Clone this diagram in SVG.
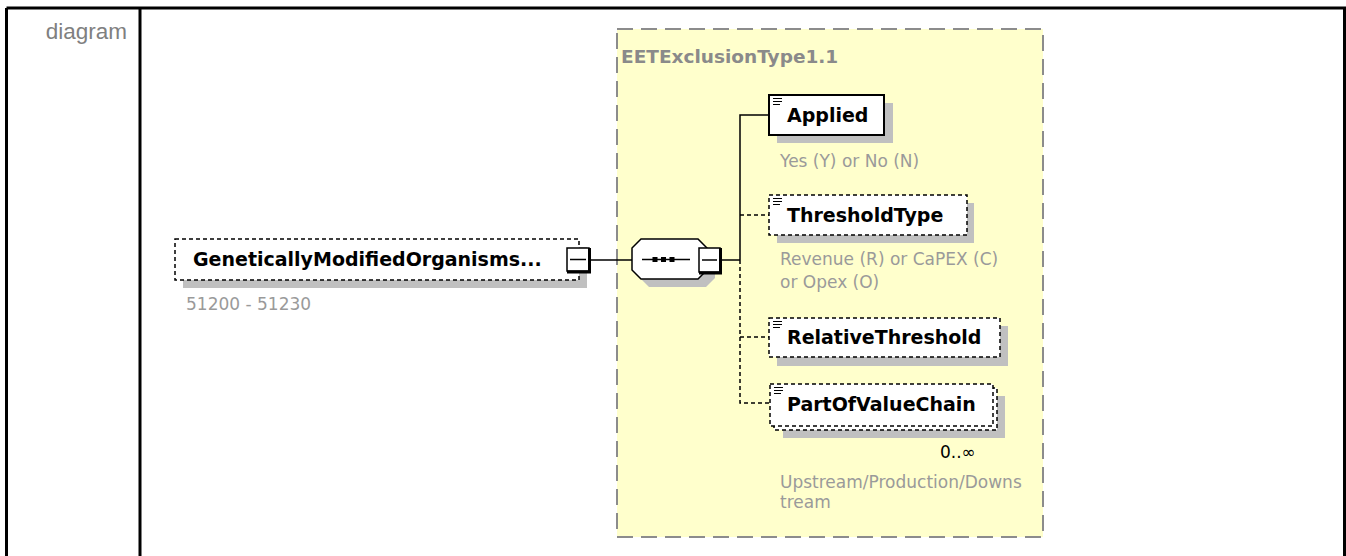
<svg xmlns="http://www.w3.org/2000/svg" width="1346" height="556" viewBox="0 0 1346 556">
<style>
.frame{fill:none;stroke:#000;stroke-width:3}
.name{font-family:"DejaVu Sans",sans-serif;font-weight:bold;font-size:19px;fill:#000}
.ann{font-family:"DejaVu Sans",sans-serif;font-size:17px;fill:#9a9a9a}
.shadow{fill:#c0c0c0}
.box{fill:#fff;stroke:#000;stroke-width:1.5;stroke-dasharray:4 3}
.solidbox{fill:#fff;stroke:#000;stroke-width:2}
.conn{fill:none;stroke:#000;stroke-width:1.5}
.dash{stroke-dasharray:4 3}
.icon{stroke:#000;stroke-width:1.2}
</style>
<rect width="1346" height="556" fill="#fff"/>
<g id="frame">
<path class="frame" d="M6.5,8 H1344.5 V556 M6.5,8 V556 M140,8 V556"/>
<text x="127" y="39" text-anchor="end" font-family="Liberation Sans, Arial, sans-serif" font-size="22.5" fill="#808080">diagram</text>
</g>
<g id="type-EETExclusionType1.1">
<rect x="617" y="29" width="426" height="508" fill="#ffffcc" stroke="#8c8c8c" stroke-width="2" stroke-dasharray="16 8"/>
<text x="621" y="63" font-family="DejaVu Sans, sans-serif" font-weight="bold" font-size="18.5" fill="#8a8a8a">EETExclusionType1.1</text>
</g>
<g id="connectors">
<path class="conn" d="M590,260 H632"/>
<path class="conn" d="M578,239 V248"/>
<path class="conn" d="M720,260 H740"/>
<path class="conn" d="M769,115 H740 V260"/>
<path class="conn dash" d="M740,260 V403 H770"/>
<path class="conn dash" d="M740,215 H769"/>
<path class="conn dash" d="M740,337 H769"/>
</g>
<g id="node-GMO">
<rect class="shadow" x="183" y="247" width="404" height="41"/>
<rect class="box" x="175" y="239" width="404" height="41"/>
<text class="name" x="193" y="266">GeneticallyModifiedOrganisms...</text>
<rect x="567" y="248" width="22" height="23" fill="#fff" stroke="#000" stroke-width="1.5"/>
<path d="M589.5,248 V272 H567" fill="none" stroke="#000" stroke-width="3"/>
<path d="M570,259.5 H586" stroke="#000" stroke-width="1.5"/>
<text class="ann" x="186" y="310" font-size="16">51200 - 51230</text>
</g>
<g id="node-sequence">
<polygon class="shadow" points="649,247 706,247 715,256 715,278 706,287 649,287 640,278 640,256"/>
<polygon points="641,239 698,239 707,248 707,270 698,279 641,279 632,270 632,248" fill="#fff" stroke="#000" stroke-width="1.5"/>
<path d="M642,259.5 H690" stroke="#000" stroke-width="1.5"/>
<rect x="652.5" y="257" width="5" height="5" fill="#000"/>
<rect x="661" y="257" width="5" height="5" fill="#000"/>
<rect x="669.5" y="257" width="5" height="5" fill="#000"/>
<rect x="699" y="248" width="21" height="24" fill="#fff" stroke="#000" stroke-width="1.5"/>
<path d="M720.5,248 V273 H699" fill="none" stroke="#000" stroke-width="3"/>
<path d="M702,260 H717" stroke="#000" stroke-width="1.5"/>
</g>
<g id="node-Applied">
<rect class="shadow" x="777" y="103" width="116" height="40"/>
<rect class="solidbox" x="769" y="95" width="115" height="40"/>
<path class="icon" d="M773,98.5 H782 M773,101.5 H782 M773,104.5 H780"/>
<text class="name" x="787" y="122">Applied</text>
<text class="ann" x="780" y="167">Yes (Y) or No (N)</text>
</g>
<g id="node-ThresholdType">
<rect class="shadow" x="777" y="203" width="197" height="40"/>
<rect class="box" x="769" y="195" width="198" height="40"/>
<path class="icon" d="M773,198.5 H782 M773,201.5 H782 M773,204.5 H780"/>
<text class="name" x="787" y="222">ThresholdType</text>
<text class="ann" x="780" y="265">Revenue (R) or CaPEX (C)</text>
<text class="ann" x="780" y="288">or Opex (O)</text>
</g>
<g id="node-RelativeThreshold">
<rect class="shadow" x="777" y="326" width="231" height="40"/>
<rect class="box" x="769" y="318" width="231" height="39"/>
<path class="icon" d="M773,321.5 H782 M773,324.5 H782 M773,327.5 H780"/>
<text class="name" x="787" y="344">RelativeThreshold</text>
</g>
<g id="node-PartOfValueChain">
<rect class="shadow" x="783" y="396" width="222" height="42"/>
<rect class="box" x="774" y="388" width="223" height="42"/>
<rect class="box" x="770" y="384" width="223" height="42"/>
<path class="icon" d="M774,387.5 H783 M774,390.5 H783 M774,393.5 H781"/>
<text class="name" x="787" y="411">PartOfValueChain</text>
<text x="940" y="458" font-family="DejaVu Sans, sans-serif" font-size="17" fill="#000">0..∞</text>
<text class="ann" x="780" y="488">Upstream/Production/Downs</text>
<text class="ann" x="780" y="508">tream</text>
</g>
</svg>
